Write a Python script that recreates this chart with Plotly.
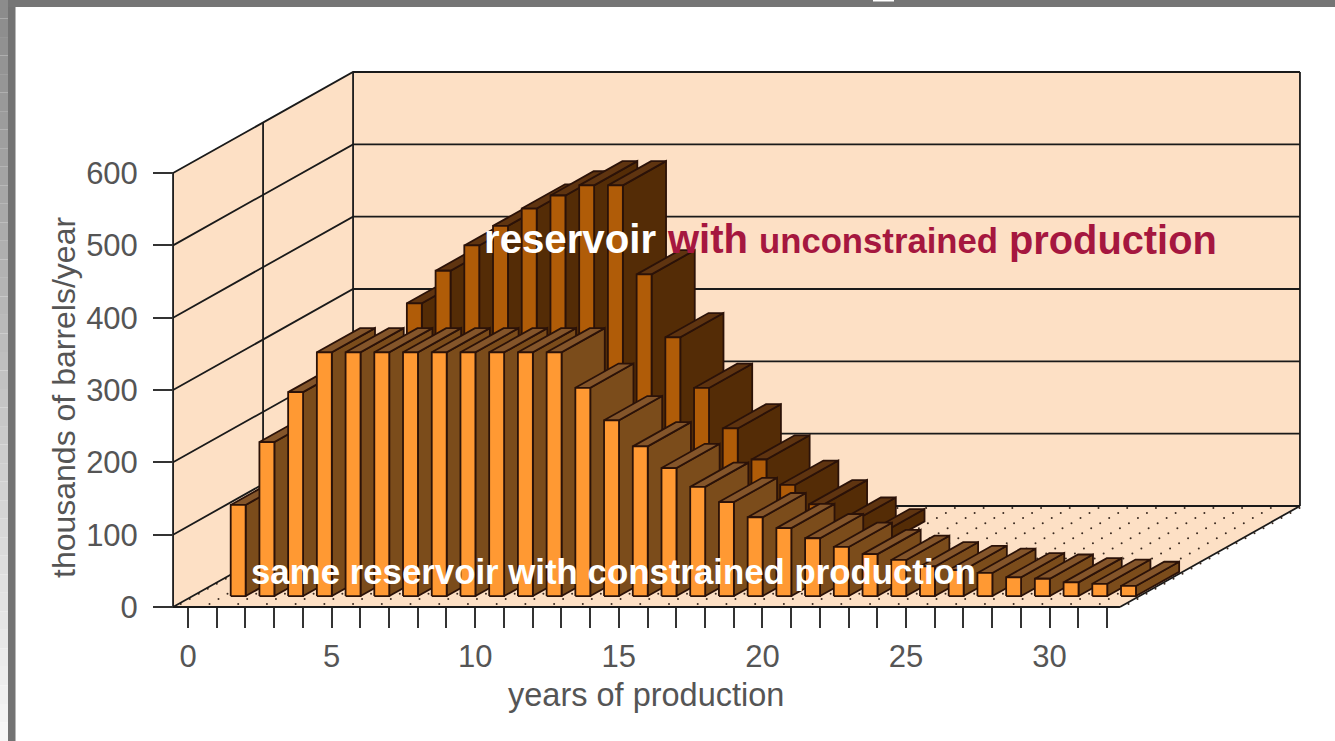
import plotly.graph_objects as go

# thousands of barrels/year, one value per year
years = list(range(1, 33))
constrained = [126, 213, 282, 337, 337, 337, 337, 337, 337, 337, 337, 337, 288, 243, 207, 177,
               151, 130, 109, 94, 80, 68, 58, 50, 41, 36, 32, 26, 24, 19, 17, 14]
unconstrained = [100, 170, 250, 335, 380, 415, 442, 466, 484, 498, 498, 375, 288, 218, 162, 119,
                 84, 57, 33, 17]

x_ticks = list(range(0, 33))
x_labels = [str(v) if v % 5 == 0 else "" for v in x_ticks]
y_ticks = [0, 100, 200, 300, 400, 500, 600]

WIDTH, HEIGHT = 1335, 741
PX_YEAR = 28.72   # pixels per year
PX_UNIT = 0.7233  # pixels per thousand barrels
X0_PX, Y0_PX = 188, 607

# oblique depth of the box, in axis units
DEPTH_X = 180 / PX_YEAR
DEPTH_Y = 101 / PX_UNIT
X_LEFT = -0.52
X_RIGHT = 32.45
Y_TOP = 600
BAR_W = 0.26
BAR_DEPTH = 0.24

WALL = "#fde0c5"
EDGE = "#2b1208"
FONT = "Liberation Sans"
TEXT = "#555555"

front_colors = ("#ff9933", "#7b4c1b", "#84552a")
back_colors = ("#b05c08", "#542c06", "#5f3410")


def project(x, y, t):
    return x + DEPTH_X * t, y + DEPTH_Y * t


fig = go.Figure()


def add_poly(points, fill, line_color=EDGE, line_width=1.8):
    xs = [p[0] for p in points] + [points[0][0]]
    ys = [p[1] for p in points] + [points[0][1]]
    fig.add_trace(go.Scatter(
        x=xs, y=ys, mode="lines", fill="toself", fillcolor=fill,
        line=dict(color=line_color, width=line_width),
        hoverinfo="skip", showlegend=False
    ))


def add_line(xs, ys, width=1.8, color="#1a1a1a"):
    fig.add_trace(go.Scatter(
        x=xs, y=ys, mode="lines", line=dict(color=color, width=width),
        hoverinfo="skip", showlegend=False
    ))


def add_bar(year, value, t0, colors):
    # year + 0.07: bars sit slightly right of the ticks in the original
    left = year + 0.07 - BAR_W
    right = year + 0.07 + BAR_W
    t1 = t0 + BAR_DEPTH
    # side, top, then front, so the front edges stay on top
    add_poly([project(right, 0, t0), project(right, 0, t1),
              project(right, value, t1), project(right, value, t0)], colors[1])
    add_poly([project(left, value, t0), project(right, value, t0),
              project(right, value, t1), project(left, value, t1)], colors[2])
    add_poly([project(left, 0, t0), project(right, 0, t0),
              project(right, value, t0), project(left, value, t0)], colors[0])


# walls and floor
add_poly([project(X_LEFT, 0, 0), project(X_RIGHT, 0, 0), project(X_RIGHT, 0, 1), project(X_LEFT, 0, 1)], WALL, WALL, 0)
add_poly([project(X_LEFT, 0, 0), project(X_LEFT, Y_TOP, 0), project(X_LEFT, Y_TOP, 1), project(X_LEFT, 0, 1)], WALL, WALL, 0)
add_poly([project(X_LEFT, 0, 1), project(X_RIGHT, 0, 1), project(X_RIGHT, Y_TOP, 1), project(X_LEFT, Y_TOP, 1)], WALL, WALL, 0)

# floor dots
dot_x, dot_y = [], []
for r in range(20):
    t = 0.03 + 0.05 * r
    for k in range(-1, 33):
        px, py = project(k + 0.56, 0, t)
        dot_x.append(px)
        dot_y.append(py)
fig.add_trace(go.Scatter(
    x=dot_x, y=dot_y, mode="markers",
    marker=dict(color="#3a2a20", size=2), hoverinfo="skip", showlegend=False
))

# grid lines on left and back wall
for v in y_ticks:
    a = project(X_LEFT, v, 0)
    b = project(X_LEFT, v, 1)
    c = project(X_RIGHT, v, 1)
    add_line([a[0], b[0], c[0]], [a[1], b[1], c[1]])

# wall corners and the divider between the two series on the left wall
add_line([X_LEFT, X_LEFT], [0, Y_TOP], 1.8)
a, b = project(X_LEFT, 0, 1), project(X_LEFT, Y_TOP, 1)
add_line([a[0], b[0]], [a[1], b[1]])
a, b = project(X_LEFT, 0, 0.5), project(X_LEFT, Y_TOP, 0.5)
add_line([a[0], b[0]], [a[1], b[1]])
a, b = project(X_RIGHT, 0, 1), project(X_RIGHT, Y_TOP, 1)
add_line([a[0], b[0]], [a[1], b[1]])
a, b = project(X_RIGHT, 0, 0), project(X_RIGHT, 0, 1)
add_line([a[0], b[0]], [a[1], b[1]])

# front edge of the floor, running out to the y tick
add_line([X_LEFT - 20 / PX_YEAR, X_RIGHT], [0, 0], 2)

for yr, val in zip(years, unconstrained):
    add_bar(yr, val, 0.608, back_colors)
for yr, val in zip(years, constrained):
    add_bar(yr, val, 0.108, front_colors)

# grey frame of the original slide, the outer strip fades towards the bottom
shapes = []
FADE_STEPS = 40
for i in range(FADE_STEPS):
    level = int(0x8c + (0xf6 - 0x8c) * i / (FADE_STEPS - 1))
    shapes.append(dict(type="rect", xref="paper", yref="paper", x0=0, x1=8 / WIDTH,
                       y0=1 - (i + 1) / FADE_STEPS, y1=1 - i / FADE_STEPS,
                       fillcolor=f"rgb({level},{level},{level})", line_width=0, layer="above"))
shapes.append(dict(type="rect", xref="paper", yref="paper", x0=8 / WIDTH, x1=15.5 / WIDTH,
                   y0=0, y1=1, fillcolor="#737373", line_width=0, layer="above"))
shapes.append(dict(type="rect", xref="paper", yref="paper", x0=8 / WIDTH, x1=1,
                   y0=1 - 7 / HEIGHT, y1=1, fillcolor="#757575", line_width=0, layer="above"))
shapes.append(dict(type="rect", xref="paper", yref="paper", x0=873 / WIDTH, x1=894 / WIDTH,
                   y0=1 - 1.5 / HEIGHT, y1=1, fillcolor="white", line_width=0, layer="above"))


def bold(size, color):
    return dict(family=FONT, size=size, color=color)


RED = "#a5173f"
annotations = [
    dict(x=482 / WIDTH, y=1 - 239 / HEIGHT, text="<b>reservoir</b>", font=bold(40.2, "white")),
    dict(x=665 / WIDTH, y=1 - 239 / HEIGHT, text="<b>with</b>", font=bold(40, RED)),
    dict(x=757 / WIDTH, y=1 - 241 / HEIGHT, text="<b>unconstrained</b>", font=bold(34.7, RED)),
    dict(x=1007 / WIDTH, y=1 - 240 / HEIGHT, text="<b>production</b>", font=bold(39.8, RED)),
    dict(x=249 / WIDTH, y=1 - 571 / HEIGHT, text="<b>same reservoir with constrained production</b>", font=bold(34.8, "white")),
]
for ann in annotations:
    ann.update(xanchor="left", yanchor="middle")

# axis titles are off centre in the original, so they are placed by hand
annotations.append(dict(x=646 / WIDTH, y=1 - 695 / HEIGHT, text="years of production",
                        xanchor="center", yanchor="middle",
                        font=dict(family=FONT, size=32.5, color=TEXT)))
annotations.append(dict(x=64 / WIDTH, y=1 - 398 / HEIGHT, text="thousands of barrels/year", textangle=-90,
                        xanchor="center", yanchor="middle",
                        font=dict(family=FONT, size=32, color=TEXT)))
for ann in annotations:
    ann.update(xref="paper", yref="paper", showarrow=False)

fig.update_layout(
    width=WIDTH, height=HEIGHT,
    margin=dict(l=0, r=0, t=0, b=0),
    paper_bgcolor="white", plot_bgcolor="white",
    showlegend=False, shapes=shapes, annotations=annotations,
    xaxis=dict(
        range=[-X0_PX / PX_YEAR, (WIDTH - X0_PX) / PX_YEAR],
        anchor="free", position=(HEIGHT - Y0_PX) / HEIGHT,
        tickmode="array", tickvals=x_ticks, ticktext=x_labels,
        ticks="outside", ticklen=20, tickwidth=2, tickcolor="#333",
        ticklabelstandoff=2,
        tickfont=dict(family=FONT, size=31, color=TEXT),
        showgrid=False, showline=False, zeroline=False,
    ),
    yaxis=dict(
        range=[(Y0_PX - HEIGHT) / PX_UNIT, Y0_PX / PX_UNIT],
        anchor="free", position=(X0_PX + X_LEFT * PX_YEAR) / WIDTH,
        tickmode="array", tickvals=y_ticks,
        ticks="outside", ticklen=20, tickwidth=2, tickcolor="#333",
        ticklabelstandoff=9,
        tickfont=dict(family=FONT, size=31, color=TEXT),
        showgrid=False, showline=False, zeroline=False,
    ),
)

# the page's default body margin would shift everything by 8px
fig.write_html("out.html", config={"displayModeBar": False},
               post_script="document.body.style.margin='0';")
